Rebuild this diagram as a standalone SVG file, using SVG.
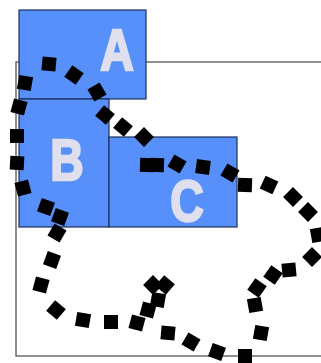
<svg xmlns="http://www.w3.org/2000/svg" xmlns:xlink="http://www.w3.org/1999/xlink" width="321" height="363" viewBox="0 0 321 363">
<defs>
<style>
.frame{fill:none;stroke:#555;stroke-width:1.3}
.box{fill:#5790fa;stroke:#1c2f5a;stroke-width:1.2}
.lbl{font-family:"Liberation Sans",Arial,sans-serif;font-weight:bold;font-size:58px;fill:#dfdfee;stroke:#dfdfee;stroke-width:2.4;stroke-linejoin:miter;text-anchor:middle}
</style>
<rect id="d" x="-7" y="-7" width="14" height="14" fill="#000"/>
</defs>
<rect class="frame" x="16" y="62" width="400" height="294"/>
<g id="node-A">
<rect class="box" x="19" y="10" width="127" height="89"/>
<text class="lbl" transform="translate(117 69.8) scale(0.8 1)">A</text>
</g>
<g id="node-B">
<rect class="box" x="19" y="99" width="90" height="128"/>
<text class="lbl" transform="translate(67 179.8) scale(0.8 1)">B</text>
</g>
<g id="node-C">
<rect class="box" x="109" y="137" width="128" height="90"/>
<text class="lbl" transform="translate(187 220.5) scale(0.8 1)">C</text>
</g>
<g id="connectors">
<use xlink:href="#d" transform="translate(49 64) rotate(5)"/>
<use xlink:href="#d" transform="translate(25 83) rotate(10)"/>
<use xlink:href="#d" transform="translate(74 75) rotate(35)"/>
<use xlink:href="#d" transform="translate(97 92) rotate(60)"/>
<use xlink:href="#d" transform="translate(19 107) rotate(15)"/>
<use xlink:href="#d" transform="translate(105 115) rotate(40)"/>
<use xlink:href="#d" transform="translate(123 127) rotate(40)"/>
<use xlink:href="#d" transform="translate(144 137) rotate(45)"/>
<use xlink:href="#d" transform="translate(17 136) rotate(0)"/>
<use xlink:href="#d" transform="translate(17 163) rotate(3)"/>
<use xlink:href="#d" transform="translate(147 165) rotate(2)"/>
<use xlink:href="#d" transform="translate(157 165) rotate(2)"/>
<use xlink:href="#d" transform="translate(177 164) rotate(30)"/>
<use xlink:href="#d" transform="translate(203 167) rotate(8)"/>
<use xlink:href="#d" transform="translate(23 188) rotate(-15)"/>
<use xlink:href="#d" transform="translate(46 207) rotate(20)"/>
<use xlink:href="#d" transform="translate(60 217) rotate(20)"/>
<use xlink:href="#d" transform="translate(57 233) rotate(30)"/>
<use xlink:href="#d" transform="translate(52 260) rotate(20)"/>
<use xlink:href="#d" transform="translate(41 285) rotate(15)"/>
<use xlink:href="#d" transform="translate(56 310) rotate(40)"/>
<use xlink:href="#d" transform="translate(83 320) rotate(10)"/>
<use xlink:href="#d" transform="translate(111 322) rotate(0)"/>
<use xlink:href="#d" transform="translate(137 323) rotate(15)"/>
<use xlink:href="#d" transform="translate(148 310) rotate(15)"/>
<use xlink:href="#d" transform="translate(158 300) rotate(10)"/>
<use xlink:href="#d" transform="translate(153 285) rotate(45)"/>
<use xlink:href="#d" transform="translate(165 285) rotate(40)"/>
<use xlink:href="#d" transform="translate(168 333) rotate(5)"/>
<use xlink:href="#d" transform="translate(191 342) rotate(30)"/>
<use xlink:href="#d" transform="translate(217 352) rotate(20)"/>
<use xlink:href="#d" transform="translate(245 356) rotate(0)"/>
<use xlink:href="#d" transform="translate(261 333) rotate(10)"/>
<use xlink:href="#d" transform="translate(255 305) rotate(-10)"/>
<use xlink:href="#d" transform="translate(257 288) rotate(35)"/>
<use xlink:href="#d" transform="translate(273 275) rotate(35)"/>
<use xlink:href="#d" transform="translate(289 270) rotate(-5)"/>
<use xlink:href="#d" transform="translate(312 257) rotate(45)"/>
<use xlink:href="#d" transform="translate(318 235) rotate(-10)"/>
<use xlink:href="#d" transform="translate(308 212) rotate(45)"/>
<use xlink:href="#d" transform="translate(293 197) rotate(45)"/>
<use xlink:href="#d" transform="translate(269 185) rotate(25)"/>
<use xlink:href="#d" transform="translate(245 185) rotate(2)"/>
<use xlink:href="#d" transform="translate(230 173) rotate(30)"/>
</g>
</svg>
